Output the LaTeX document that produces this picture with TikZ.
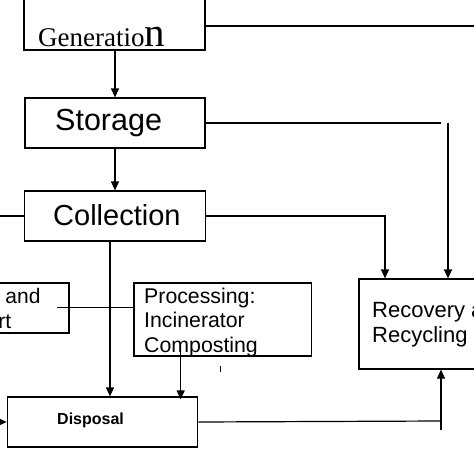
\documentclass[tikz,border=0pt]{standalone}
\usepackage{fontspec}
\setmainfont{Liberation Sans}
\newfontfamily\seriffam{Liberation Serif}
\usetikzlibrary{arrows.meta}
\tikzset{
  boxnode/.style={draw, line width=1.2pt, inner sep=0pt},
  txt/.style={inner sep=0pt, anchor=base west, align=left},
  conn/.style={line width=1.2pt},
  arr/.style={line width=1.2pt, -{Triangle[length=9pt,width=8pt]}},
}
\begin{document}
\begin{tikzpicture}[x=1pt,y=-1pt]
\useasboundingbox (0,0) rectangle (474,474);
\clip (0,0) rectangle (474,474);
\fill[white] (0,0) rectangle (474,474);
% boxes
\node[boxnode, minimum width=181, minimum height=80] (gen) at (114.5,10) {};
\node[boxnode, minimum width=180, minimum height=50] (storage) at (115,123) {};
\node[boxnode, minimum width=181, minimum height=50] (collection) at (115,216) {};
\node[boxnode, minimum width=155, minimum height=50] (transfer) at (-8.5,308) {};
\node[boxnode, minimum width=177.5, minimum height=73] (processing) at (222.75,319.5) {};
\node[boxnode, minimum width=170, minimum height=90] (recovery) at (444,324) {};
\node[boxnode, minimum width=190.5, minimum height=50] (disposal) at (102.5,422) {};
% texts
\node[txt] (gentext) at (38,46) {\seriffam\fontsize{27}{30}\selectfont Generatio\fontsize{41}{44}\selectfont n};
\node[txt, font=\fontsize{30.5}{34}\selectfont] (stotext) at (55,130.5) {Storage};
\node[txt, font=\fontsize{29}{33}\selectfont] (coltext) at (53,225) {Collection};
\node[txt, font=\fontsize{21}{25}\selectfont] (trantext) at (-78,328) {Transfer and\\Transport};
\node[txt, font=\fontsize{21.3}{24.5}\selectfont] (proctext) at (144,352) {Processing:\\Incinerator\\Composting};
\node[txt, font=\fontsize{22}{25}\selectfont] (rectext) at (372,342) {Recovery and\\Recycling};
\node[txt, font=\fontsize{16}{19}\selectfont\bfseries] (distext) at (57,424) {Disposal};
% coordinates
\coordinate (genline) at (480,26);
\coordinate (sr1) at (441,123);
\coordinate (sr2) at (448,123);
\coordinate (colL) at (-5,216);
\coordinate (cr) at (385,216);
\coordinate (cb) at (110,241);
\coordinate (tl) at (57,307.5);
\coordinate (pc) at (180.7,345);
\coordinate (tk1) at (220,366);
\coordinate (tk2) at (220,372);
\coordinate (dl) at (-5,422);
\coordinate (dr) at (441,421);
\coordinate (drb) at (441,430);
% connectors
\draw[conn] (gen.east |- genline) -- (genline);
\draw[arr] (gen.south -| storage.north) -- (storage.north);
\draw[conn] (storage.east) -- (sr1);
\draw[arr] (sr2) -- (sr2 |- recovery.north);
\draw[arr] (storage.south) -- (collection.north);
\draw[conn] (collection.west) -- (colL);
\draw[arr] (collection.east) -- (cr) -- (cr |- recovery.north);
\draw[arr] (collection.south -| cb) -- (cb |- disposal.north);
\draw[conn] (tl) -- (tl -| processing.west);
\draw[arr] (pc) -- ([yshift=-3pt]pc |- disposal.north);
\draw[line width=0.8pt] (tk1) -- (tk2);
\draw[arr] (dl) -- (dl -| disposal.west);
\draw[conn] (disposal.east) -- (dr);
\draw[arr] (drb) -- (drb |- recovery.south);
\end{tikzpicture}
\end{document}
